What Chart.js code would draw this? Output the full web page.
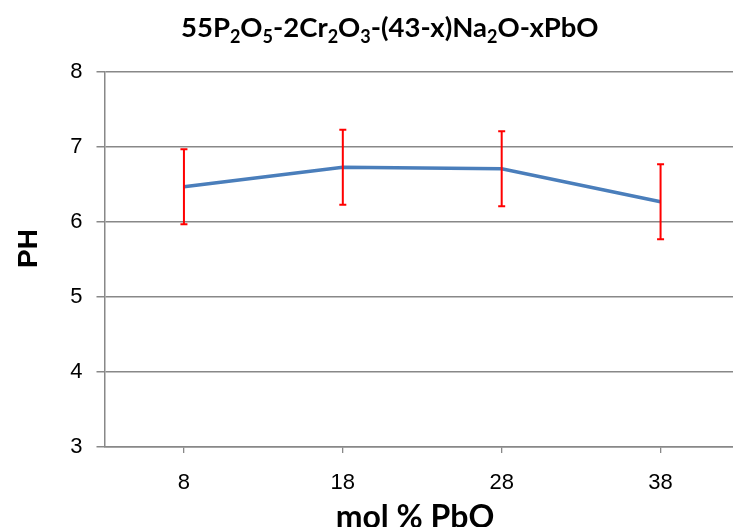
<!DOCTYPE html>
<html>
<head>
<meta charset="utf-8">
<script src="https://cdn.jsdelivr.net/npm/chart.js@4.4.1/dist/chart.umd.min.js"></script>
<style>
  html, body { margin: 0; padding: 0; background: #fff; overflow: hidden; }
  #wrap { width: 733px; height: 527px; overflow: hidden; }
</style>
</head>
<body>
<div id="wrap"><canvas id="chart" width="740" height="527"></canvas></div>
<script>
const categories = ['8', '18', '28', '38'];
const phValues = [6.47, 6.73, 6.71, 6.27];
const phErrors = [0.5, 0.5, 0.5, 0.5];
const yTicks = [3, 4, 5, 6, 7, 8];

// title pieces: [text, isSubscript]
const titleParts = [
  ['55P', false], ['2', true], ['O', false], ['5', true],
  ['-2Cr', false], ['2', true], ['O', false], ['3', true],
  ['-(43-x)Na', false], ['2', true], ['O-xPbO', false],
];

const gray = '#888888';

const errorBars = {
  id: 'errorBars',
  afterDatasetsDraw(chart) {
    const { ctx, scales: { x, y } } = chart;
    ctx.save();
    ctx.strokeStyle = '#ff0000';
    ctx.lineWidth = 2;
    phValues.forEach((v, i) => {
      const px = x.getPixelForValue(i);
      const top = y.getPixelForValue(v + phErrors[i]);
      const bot = y.getPixelForValue(v - phErrors[i]);
      ctx.beginPath();
      ctx.moveTo(px, top); ctx.lineTo(px, bot);
      ctx.moveTo(px - 3.5, top); ctx.lineTo(px + 3.5, top);
      ctx.moveTo(px - 3.5, bot); ctx.lineTo(px + 3.5, bot);
      ctx.stroke();
    });
    ctx.restore();
  }
};

const labels = {
  id: 'labels',
  afterDraw(chart) {
    const ctx = chart.ctx;
    ctx.save();
    ctx.fillStyle = '#000';
    ctx.textBaseline = 'alphabetic';
    ctx.textAlign = 'left';

    // title with subscripts
    const big = 'bold 27.5px Lato', small = 'bold 18px Lato';
    let xPos = 181;
    titleParts.forEach(([t, sub]) => {
      ctx.font = sub ? small : big;
      ctx.fillText(t, xPos, sub ? 43 : 37);
      xPos += ctx.measureText(t).width;
    });

    // x axis title
    ctx.font = 'bold 32px Lato';
    ctx.textAlign = 'center';
    ctx.fillText('mol % PbO', 415, 528);

    // y axis title
    ctx.translate(36.5, 248.5);
    ctx.rotate(-Math.PI / 2);
    ctx.font = 'bold 28px "Liberation Sans"';
    ctx.fillText('PH', 0, 0);
    ctx.restore();
  }
};

new Chart(document.getElementById('chart'), {
  type: 'line',
  data: {
    labels: categories,
    datasets: [{
      data: phValues,
      borderColor: '#4a7ebb',
      borderWidth: 3.5,
      pointRadius: 0,
      tension: 0,
      fill: false,
    }],
  },
  options: {
    responsive: false,
    animation: false,
    layout: { padding: { top: 72, left: 0, right: 0, bottom: 0 } },
    plugins: { legend: { display: false }, tooltip: { enabled: false }, title: { display: false } },
    scales: {
      x: {
        type: 'category',
        offset: true,
        grid: { offset: false, drawOnChartArea: false, drawTicks: true, tickLength: 6, color: gray, lineWidth: 1.3 },
        border: { display: true, color: gray, width: 1.5 },
        ticks: { color: '#000', padding: 17, font: { family: '"Liberation Sans"', size: 22 } },
        afterFit(scale) { scale.height = 80; },
      },
      y: {
        min: 3,
        max: 8,
        afterBuildTicks(scale) { scale.ticks = yTicks.map(v => ({ value: v })); },
        grid: { color: gray, lineWidth: 1.5, tickLength: 8 },
        border: { display: true, color: gray, width: 1.5 },
        ticks: { color: '#000', padding: 14, font: { family: '"Liberation Sans"', size: 22 } },
        afterFit(scale) { scale.width = 104.5; },
      },
    },
  },
  plugins: [errorBars, labels],
});
</script>
</body>
</html>
